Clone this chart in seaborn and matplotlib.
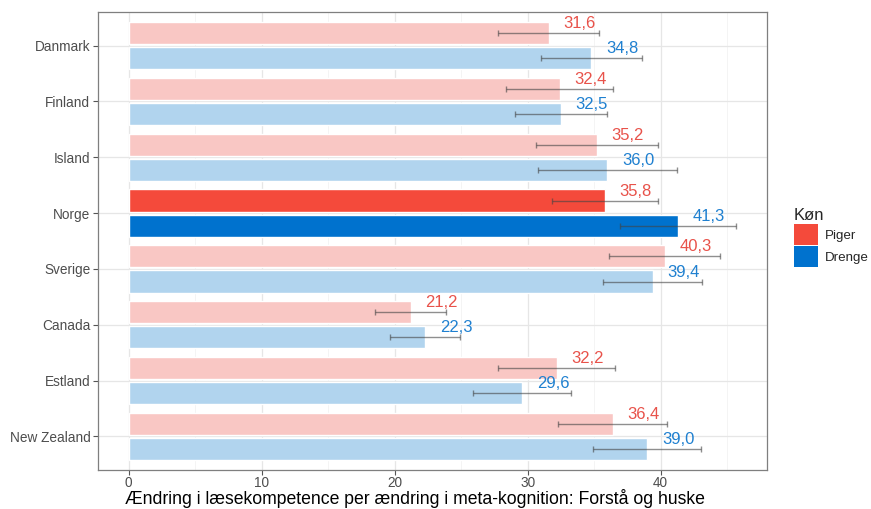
import pandas as pd
import seaborn as sns
import matplotlib.pyplot as plt
from matplotlib.patches import Patch
from matplotlib.ticker import MultipleLocator


countries = ['Danmark', 'Finland', 'Island', 'Norge', 'Sverige', 'Canada', 'Estland', 'New Zealand']
piger = [31.6, 32.4, 35.2, 35.8, 40.3, 21.2, 32.2, 36.4]
drenge = [34.8, 32.5, 36.0, 41.3, 39.4, 22.3, 29.6, 39.0]
piger_err = [3.8, 4.0, 4.6, 4.0, 4.2, 2.65, 4.4, 4.1]
drenge_err = [3.8, 3.45, 5.2, 4.35, 3.7, 2.65, 3.7, 4.05]
highlight = 'Norge'

full = {'Piger': '#F44A3B', 'Drenge': '#0072CE'}
light = {'Piger': '#F9C7C4', 'Drenge': '#B1D4EE'}
text_col = {'Piger': '#E8524A', 'Drenge': '#1F80D0'}

df = pd.DataFrame({
    'Land': countries * 2,
    'Køn': ['Piger'] * len(countries) + ['Drenge'] * len(countries),
    'Værdi': piger + drenge,
    'Fejl': piger_err + drenge_err,
})

sns.set_theme(style='whitegrid')
plt.rcParams['font.family'] = ['Liberation Sans', 'DejaVu Sans']

fig, ax = plt.subplots(figsize=(8.71, 5.09), dpi=100)
fig.subplots_adjust(left=0.1125, right=0.8806, top=0.9764, bottom=0.0766)

sns.barplot(data=df, y='Land', x='Værdi', hue='Køn', hue_order=['Piger', 'Drenge'],
            order=countries, orient='h', palette=light, saturation=1, width=0.9, gap=0.12,
            errorbar=None, legend=False, ax=ax, zorder=2)

for cont, gender in zip(ax.containers, ['Piger', 'Drenge']):
    sub = df[df['Køn'] == gender].set_index('Land').loc[countries]
    for bar, land in zip(cont.patches, countries):
        val = sub.loc[land, 'Værdi']
        err = sub.loc[land, 'Fejl']
        if land == highlight:
            bar.set_facecolor(full[gender])
        yc = bar.get_y() + bar.get_height() / 2
        ax.errorbar(val, yc, xerr=err, fmt='none', ecolor='#444444', alpha=0.6,
                    elinewidth=1.0, capsize=2.5, capthick=1.0, zorder=3)
        ax.text(val + 1.1, yc - 0.17, f'{val:.1f}'.replace('.', ','),
                color=text_col[gender], fontsize=12, ha='left', va='center', zorder=4)

ax.set_xlim(-2.3, 48.0)
ax.set_ylim(7.6, -0.6)
ax.xaxis.set_major_locator(MultipleLocator(10))
ax.xaxis.set_minor_locator(MultipleLocator(5))
ax.grid(which='major', axis='both', color='#E6E6E6', linewidth=0.9)
ax.grid(which='minor', axis='x', color='#F2F2F2', linewidth=0.6)
ax.set_axisbelow(True)
for s in ax.spines.values():
    s.set_edgecolor('#7F7F7F')
    s.set_linewidth(0.9)
ax.tick_params(axis='both', which='major', bottom=True, left=True, length=3.5, width=0.8,
               color='#555555', labelcolor='#4D4D4D', labelsize=9.8, pad=2)
ax.tick_params(axis='x', which='major', pad=1)
ax.tick_params(axis='x', which='minor', length=0)

ax.set_ylabel('')
ax.set_xlabel('Ændring i læsekompetence per ændring i meta-kognition: Forstå og huske',
              fontsize=12.7, color='black', va='center')
ax.xaxis.set_label_coords(0.474, -0.063)

handles = [Patch(facecolor=full[g], edgecolor='none', label=g) for g in ['Piger', 'Drenge']]
leg = fig.legend(handles=handles, title='Køn', loc='upper left', bbox_to_anchor=(0.905, 0.602),
                 frameon=False, fontsize=9.6, title_fontsize=12,
                 handlelength=1.8, handleheight=2.0, handletextpad=0.55, labelspacing=0.1,
                 borderaxespad=0)
leg._legend_box.align = 'left'

plt.savefig('out.png', dpi=100)
